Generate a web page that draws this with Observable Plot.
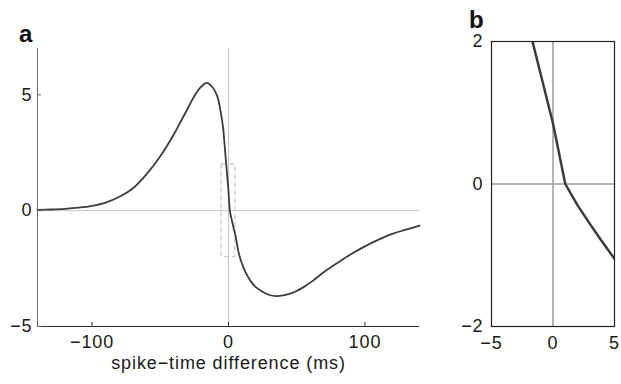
<!DOCTYPE html>
<html><head><meta charset="utf-8">
<script src="https://cdn.jsdelivr.net/npm/d3@7"></script>
<script src="https://cdn.jsdelivr.net/npm/@observablehq/plot@0.6"></script>
<style>
body{margin:0;background:#fff;}
#wrap{position:relative;width:621px;height:384px;font-family:"Liberation Sans",Arial,Helvetica,sans-serif;overflow:hidden;}
#wrap svg{position:absolute;top:0;overflow:visible;}
.panel-label{position:absolute;font-weight:bold;font-size:24px;line-height:18px;height:18px;color:#111;}
</style></head><body>
<div id="wrap"></div>
<script>
// spike-time difference (ms)
const times = [-140,-130,-120,-110,-100,-90,-80,-70,-60,-50,-40,-35,-30,-25,-20,-16,-12,-8,-6,-4,-3,-2,-1,0,1,2,3,4,5,8,12,16,20,25,30,35,40,48,55,62,70,80,90,100,110,120,130,140];
// weight change
const weightChange = [0.03,0.05,0.08,0.13,0.21,0.35,0.6,0.97,1.58,2.35,3.3,3.85,4.4,4.95,5.35,5.52,5.35,4.9,4.35,3.6,2.95,2.23,1.54,0.85,0,-0.30,-0.56,-0.81,-1.05,-1.95,-2.6,-3.02,-3.3,-3.5,-3.64,-3.69,-3.66,-3.52,-3.3,-3.02,-2.65,-2.25,-1.87,-1.54,-1.25,-1.0,-0.82,-0.65];
const zoomX = [-5, 5];
const zoomY = [-2, 2];
const panelAX = [-140, 140];
const panelAY = [-5, 7];
const ticksAX = [-100, 0, 100];
const ticksAY = [-5, 0, 5];
const ticksBX = [-5, 0, 5];
const ticksBY = [-2, 0, 2];
const xLabel = "spike−time difference (ms)";
const panelLabels = ["a", "b"];

const data = times.map((t, i) => ({t, w: weightChange[i]}));
const font = '"Liberation Sans", Arial, Helvetica, sans-serif';
const minus = d => d < 0 ? "−" + Math.abs(d) : String(d);
const textStyle = {fontFamily: font, fontSize: "18px", letterSpacing: "0.9px", background: "transparent", color: "#1a1a1a", overflow: "visible"};

const A = {w: 430, h: 384, ml: 37, mr: 11, mt: 48, mb: 58};
const chartA = Plot.plot({
  width: A.w, height: A.h, marginLeft: A.ml, marginRight: A.mr, marginTop: A.mt, marginBottom: A.mb,
  style: textStyle,
  x: {domain: panelAX, label: null},
  y: {domain: panelAY, label: null},
  marks: [
    Plot.ruleY([0], {stroke: "#c4c4c4", strokeWidth: 1}),
    Plot.ruleX([0], {stroke: "#c4c4c4", strokeWidth: 1}),
    Plot.rect([{x1: zoomX[0], x2: zoomX[1], y1: zoomY[0], y2: zoomY[1]}],
      {x1: "x1", x2: "x2", y1: "y1", y2: "y2", fill: "none", stroke: "#c4c4c4", strokeDasharray: "5,3", strokeWidth: 1.2}),
    Plot.line(data, {x: "t", y: "w", stroke: "#3c3c3c", strokeWidth: 1.8, curve: "catmull-rom"}),
    Plot.ruleX([panelAX[0]], {stroke: "#666"}),
    Plot.ruleY([panelAY[0]], {stroke: "#333"}),
    Plot.tickX(ticksAX, {x: d => d, insetTop: A.h - A.mt - A.mb - 4, stroke: "#333"}),
    Plot.tickY(ticksAY, {y: d => d, insetRight: A.w - A.ml - A.mr - 4, stroke: "#666"}),
    Plot.axisX(ticksAX, {tickSize: 0, tickPadding: 9, tickFormat: minus, label: xLabel, labelAnchor: "center", labelOffset: 42, labelArrow: "none"}),
    Plot.axisY(ticksAY, {tickSize: 0, tickPadding: 5, tickFormat: minus, label: null})
  ]
});

const B = {w: 191, h: 384, ml: 61, mr: 7, mt: 41, mb: 58};
const chartB = Plot.plot({
  width: B.w, height: B.h, marginLeft: B.ml, marginRight: B.mr, marginTop: B.mt, marginBottom: B.mb,
  style: textStyle,
  x: {domain: zoomX, label: null},
  y: {domain: zoomY, label: null},
  marks: [
    Plot.ruleY([0], {stroke: "#b4b4b4", strokeWidth: 2}),
    Plot.ruleX([0], {stroke: "#b4b4b4", strokeWidth: 2}),
    Plot.line(data, {x: "t", y: "w", stroke: "#3c3c3c", strokeWidth: 2.5, clip: true}),
    Plot.frame({stroke: "#222", strokeWidth: 1.2}),
    Plot.axisX(ticksBX, {tickSize: 0, tickPadding: 10, tickFormat: minus, label: null}),
    Plot.axisY(ticksBY, {tickSize: 0, tickPadding: 8, tickFormat: minus, label: null})
  ]
});

const wrap = document.getElementById("wrap");
chartA.style.left = "0px";
chartB.style.left = "430px";
wrap.appendChild(chartA);
wrap.appendChild(chartB);

const labelPos = [{left: 19, top: 25}, {left: 469, top: 11}];
panelLabels.forEach((txt, i) => {
  const el = document.createElement("div");
  el.className = "panel-label";
  el.textContent = txt;
  el.style.left = labelPos[i].left + "px";
  el.style.top = labelPos[i].top + "px";
  wrap.appendChild(el);
});
</script>
</body></html>
